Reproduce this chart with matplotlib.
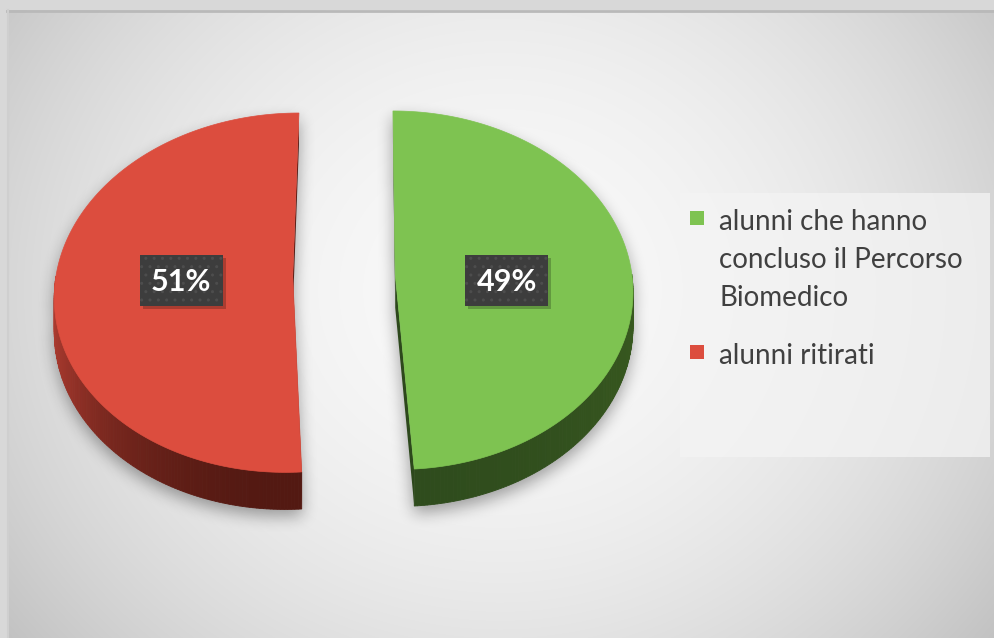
import numpy as np
import matplotlib
matplotlib.use("Agg")
import matplotlib.pyplot as plt
from matplotlib.patches import Polygon, Rectangle
from matplotlib.path import Path
from matplotlib.colors import to_rgb

# ---- data ----
categories = ["alunni che hanno\nconcluso il Percorso\nBiomedico", "alunni ritirati"]
values = [49, 51]
labels = ["49%", "51%"]
top_colors = ["#7ec351", "#dc4d3e"]
side_colors = [("#2f4c1d", "#38591f"), ("#531912", "#b43e32")]  # (near bottom, near side)

W, H = 995, 638
fig = plt.figure(figsize=(W / 100, H / 100), dpi=100)
fig.patch.set_facecolor("#d8d8d8")
ax = fig.add_axes([0, 0, 1, 1])
ax.set_xlim(0, W)
ax.set_ylim(H, 0)
ax.axis("off")

# ---- background radial gradient ----
bx0, by0 = 7, 10
yy, xx = np.mgrid[by0:H, bx0:W].astype(float)
r2 = ((xx - 500) / 620) ** 2 + ((yy - 290) / 560) ** 2
val = np.clip(0.975 - 0.21 * r2, 0, 1)
bg = np.dstack([val, val, val])
ax.imshow(bg, extent=(bx0, W, H, by0), origin="upper", zorder=0, interpolation="bilinear")
ax.plot([bx0, W], [by0 + 0.5, by0 + 0.5], color="#b9b9b9", lw=2, zorder=1)
ax.plot([bx0 + 0.5, bx0 + 0.5], [by0, H], color="#cfcfcf", lw=1.5, zorder=1)

# ---- 3-D projection of a unit-radius pie ----
CXS, CYS = 367.7, 275.3     # screen position of the camera axis
SX, SY = 236.7, 178.0       # horizontal / vertical scale
SZ = 33.7                   # slab thickness on screen
Q = 0.09                    # perspective strength
PIE_X = -0.1                # pie centre offset (unit radii)
EXPLODE = 0.2165


def proj(X, Y, Z=0.0):
    X, Y = np.asarray(X, float), np.asarray(Y, float)
    d = 1 + Q * Y
    return CXS + SX * X / d, CYS - SY * Y / d + SZ * Z / d


total = float(sum(values))
start = 90.0
slices = []
for v in values:
    sweep = 360.0 * v / total
    t1, t0 = start, start - sweep  # clockwise
    mid = np.radians((t0 + t1) / 2)
    ox = PIE_X + EXPLODE * np.cos(mid)
    oy = EXPLODE * np.sin(mid)
    slices.append((t0, t1, ox, oy, mid))
    start = t0


def pts(ox, oy, ts, Z=0.0, with_center=False):
    t = np.radians(ts)
    X = ox + np.cos(t)
    Y = oy + np.sin(t)
    if with_center:
        X = np.concatenate([[ox], X])
        Y = np.concatenate([[oy], Y])
    x, y = proj(X, Y, Z)
    return np.column_stack([x, y])


# shadow mask
gy, gx = np.mgrid[0:H, 0:W]
grid = np.column_stack([gx.ravel() + 0.5, gy.ravel() + 0.5])
mask = np.zeros(H * W)
for (t0, t1, ox, oy, mid) in slices:
    ts = np.linspace(t0, t1, 200)
    for poly in (pts(ox, oy, ts, 0, True), pts(ox, oy, ts, 1, True)):
        mask = np.maximum(mask, Path(poly).contains_points(grid).astype(float))
    band = np.vstack([pts(ox, oy, ts, 0), pts(ox, oy, ts, 1)[::-1]])
    mask = np.maximum(mask, Path(band).contains_points(grid).astype(float))
mask = mask.reshape(H, W)
mask = np.roll(mask, 7, axis=0)


def blur1d(a, r, axis):
    a = np.moveaxis(a, axis, 0)
    pad = np.pad(a, ((r + 1, r), (0, 0)), mode="edge")
    c = np.cumsum(pad, axis=0)
    out = (c[2 * r + 1:] - c[:-2 * r - 1]) / (2 * r + 1)
    return np.moveaxis(out, 0, axis)


sh = mask
for _ in range(3):
    sh = blur1d(sh, 7, 0)
    sh = blur1d(sh, 7, 1)
shadow = np.zeros((H, W, 4))
shadow[..., 3] = sh * 0.35
ax.imshow(shadow, extent=(0, W, H, 0), origin="upper", zorder=2, interpolation="bilinear")

# ---- sides ----
for i, (t0, t1, ox, oy, mid) in enumerate(slices):
    c_bot = np.array(to_rgb(side_colors[i][0]))
    c_sid = np.array(to_rgb(side_colors[i][1]))
    for t in (t0, t1):
        a = pts(ox, oy, [t], 0, True)
        b = pts(ox, oy, [t], 1, True)
        ax.add_patch(Polygon(np.vstack([a, b[::-1]]), closed=True,
                             facecolor=c_bot * 0.95, edgecolor="none", zorder=3))
    ts = np.linspace(t0, t1, 240)
    for k in range(len(ts) - 1):
        tm = np.radians((ts[k] + ts[k + 1]) / 2)
        if np.sin(tm) > 0:
            continue
        a = pts(ox, oy, ts[k:k + 2], 0)
        b = pts(ox, oy, ts[k:k + 2], 1)
        f = abs(np.sin(tm))
        col = c_sid + (c_bot - c_sid) * f ** 1.5
        ax.add_patch(Polygon(np.vstack([a, b[::-1]]), closed=True,
                             facecolor=col, edgecolor=col, lw=0.6, zorder=3))

# ---- top faces ----
for i, (t0, t1, ox, oy, mid) in enumerate(slices):
    ts = np.linspace(t0, t1, 300)
    ax.add_patch(Polygon(pts(ox, oy, ts, 0, True), closed=True, facecolor=top_colors[i],
                         edgecolor=top_colors[i], lw=0.5, zorder=4))

# ---- data labels ----
for i, (t0, t1, ox, oy, mid) in enumerate(slices):
    lx, ly = proj(ox + 0.47 * np.cos(mid), -0.03)
    bw, bh = 83, 51
    ax.add_patch(Rectangle((lx - bw / 2 + 3, ly - bh / 2 + 3), bw, bh, facecolor="black",
                           alpha=0.22, edgecolor="none", zorder=5))
    ax.add_patch(Rectangle((lx - bw / 2, ly - bh / 2), bw, bh, facecolor="#3d3d3d",
                           edgecolor="#4d4d4d", lw=0, hatch="..", zorder=5))
    ax.text(lx, ly + 1, labels[i], ha="center", va="center", color="white",
            fontsize=22, fontweight="bold", family=["Lato", "DejaVu Sans"], zorder=6)

# ---- legend ----
ax.add_patch(Rectangle((680, 193), 310, 264, facecolor="#f4f4f4", alpha=0.75,
                       edgecolor="none", zorder=5))
leg_tops = [206, 340]
for i, cat in enumerate(categories):
    ax.add_patch(Rectangle((690, leg_tops[i] + 5), 14, 14, facecolor=top_colors[i],
                           edgecolor="none", zorder=6))
    ax.text(719, leg_tops[i] + 3.5, cat, ha="left", va="top", color="#404040", fontsize=20,
            family=["Lato", "DejaVu Sans"], linespacing=1.55, zorder=6)

fig.savefig("out.png", dpi=100, facecolor=fig.get_facecolor())
